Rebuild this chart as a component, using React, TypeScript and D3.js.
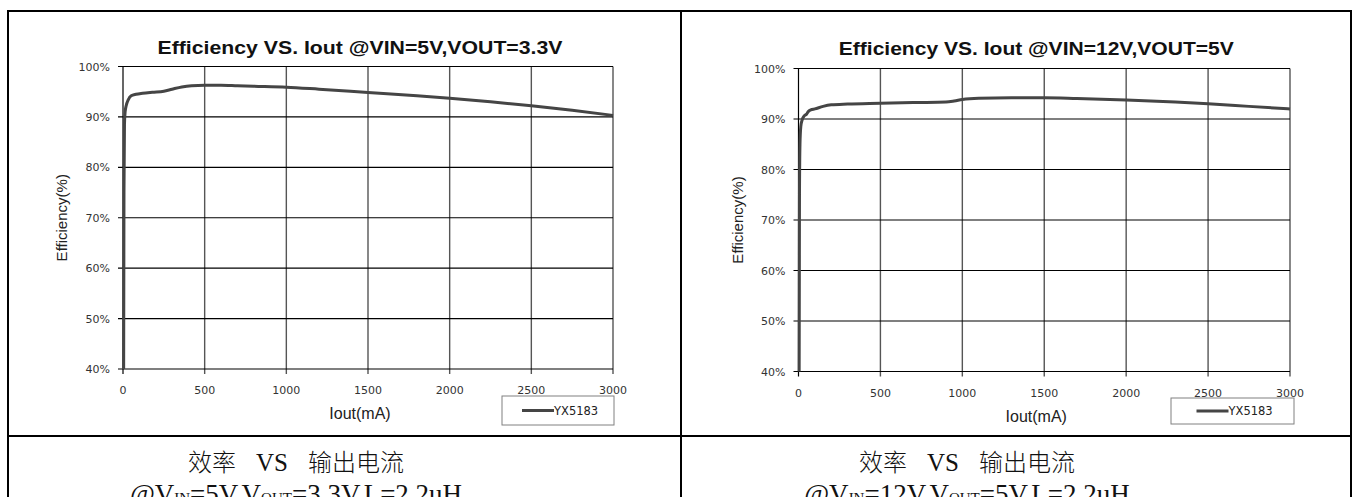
import React from 'react';
import * as d3 from 'd3';

// ---------- data ----------
const xTicks = [0, 500, 1000, 1500, 2000, 2500, 3000];
const yTicks = [40, 50, 60, 70, 80, 90, 100];
const seriesName = 'YX5183';

// VIN=5V, VOUT=3.3V
const leftIout = [4, 6, 9, 13, 20, 32, 50, 80, 120, 180, 250, 300, 360, 420, 500, 600, 700, 800, 1000, 1200, 1500, 1800, 2000, 2250, 2500, 2750, 3000];
const leftEff = [40, 75, 88.5, 91, 92.3, 93.4, 94.2, 94.5, 94.7, 94.9, 95.1, 95.5, 95.95, 96.2, 96.3, 96.3, 96.2, 96.1, 95.9, 95.5, 94.85, 94.2, 93.7, 93.0, 92.2, 91.3, 90.3];

// VIN=12V, VOUT=5V
const rightIout = [4, 6, 9, 14, 22, 35, 50, 60, 75, 100, 150, 200, 300, 500, 700, 900, 950, 1000, 1100, 1300, 1500, 1700, 2000, 2300, 2500, 2750, 3000];
const rightEff = [40, 75, 85, 88.5, 89.8, 90.6, 91.0, 91.5, 91.8, 92.0, 92.5, 92.8, 92.95, 93.1, 93.25, 93.35, 93.55, 93.85, 94.1, 94.2, 94.2, 94.05, 93.75, 93.35, 93.0, 92.5, 92.0];

const leftTitle = 'Efficiency VS. Iout @VIN=5V,VOUT=3.3V';
const rightTitle = 'Efficiency VS. Iout @VIN=12V,VOUT=5V';
const xLabel = 'Iout(mA)';
const yLabel = 'Efficiency(%)';
const captionTop = ['效率', 'VS', '输出电流'];

type ChartProps = {
  iout: number[];
  eff: number[];
  title: string;
  left: number;
  right: number;
  top: number;
  bottom: number;
  titleY: number;
  titleW: number;
  legendX: number;
  legendW: number;
  legendY: number;
  legendH: number;
  yLabelX: number;
};

const tickFont = 'DejaVu Sans, Verdana, sans-serif';
const sansFont = 'Liberation Sans, Arial, sans-serif';

function Chart(p: ChartProps) {
  const x = d3.scaleLinear().domain([0, 3000]).range([p.left, p.right]);
  const y = d3.scaleLinear().domain([40, 100]).range([p.bottom, p.top]);
  const line = d3
    .line<number>()
    .x((_, i) => x(p.iout[i]))
    .y((d) => y(d))
    .curve(d3.curveMonotoneX);
  const cx = (p.left + p.right) / 2 - 8;
  return (
    <g>
      <text
        x={cx}
        y={p.titleY}
        textAnchor="middle"
        fontFamily={sansFont}
        fontWeight="bold"
        fontSize={19}
        textLength={p.titleW}
        lengthAdjust="spacingAndGlyphs"
        fill="#111"
      >
        {p.title}
      </text>
      {/* vertical grid */}
      {xTicks.map((t) => (
        <line key={'vx' + t} x1={x(t)} x2={x(t)} y1={y(100)} y2={y(40) + 5} stroke={t === 0 ? '#000' : '#555'} strokeWidth={t === 0 ? 1.2 : 1.4} />
      ))}
      {/* horizontal grid */}
      {yTicks.map((t) => (
        <line key={'hy' + t} x1={x(0) - 5} x2={x(3000)} y1={y(t)} y2={y(t)} stroke="#000" strokeWidth={1.2} />
      ))}
      {yTicks.map((t) => (
        <text key={'ly' + t} x={x(0) - 13} y={y(t) + 4} textAnchor="end" fontFamily={tickFont} fontSize={11} fill="#333">
          {t + '%'}
        </text>
      ))}
      {xTicks.map((t) => (
        <text key={'lx' + t} x={x(t)} y={y(40) + 25} textAnchor="middle" fontFamily={tickFont} fontSize={11} fill="#333">
          {t}
        </text>
      ))}
      <path d={line(p.eff) || ''} fill="none" stroke="#454545" strokeWidth={3} strokeLinejoin="round" />
      <text x={cx} y={y(40) + 50} textAnchor="middle" fontFamily={sansFont} fontSize={16} fill="#222">
        {xLabel}
      </text>
      <text
        transform={`translate(${p.yLabelX},${(p.top + p.bottom) / 2}) rotate(-90)`}
        textAnchor="middle"
        fontFamily={sansFont}
        fontSize={15}
        fill="#222"
      >
        {yLabel}
      </text>
      <rect x={p.legendX} y={p.legendY} width={p.legendW} height={p.legendH} fill="#fff" stroke="#808080" strokeWidth={1} />
      <line x1={p.legendX + p.legendW / 2 - 36} x2={p.legendX + p.legendW / 2 - 4} y1={p.legendY + p.legendH / 2} y2={p.legendY + p.legendH / 2} stroke="#454545" strokeWidth={3} />
      <text x={p.legendX + p.legendW / 2 - 4} y={p.legendY + p.legendH / 2 + 4} fontFamily={tickFont} fontSize={11.5} fill="#222">
        {seriesName}
      </text>
    </g>
  );
}

function Caption({ cx, vin, vout }: { cx: number; vin: string; vout: string }) {
  return (
    <g>
      <text x={cx} y={471} textAnchor="middle" fontFamily="Noto Sans CJK SC, sans-serif" fontSize={24} fontWeight={300} fill="#111">
        <tspan>{captionTop[0]}</tspan>
        <tspan dx={20} fontFamily="Liberation Serif, serif" fontSize={25}>{captionTop[1]}</tspan>
        <tspan dx={20}>{captionTop[2]}</tspan>
      </text>
      <text x={cx} y={503} textAnchor="middle" fontFamily="Liberation Serif, serif" fontSize={27} fill="#111">
        <tspan>@V</tspan>
        <tspan fontSize={15}>IN</tspan>
        <tspan>{'=' + vin + ',V'}</tspan>
        <tspan fontSize={15}>OUT</tspan>
        <tspan>{'=' + vout + ',L=2.2uH'}</tspan>
      </text>
    </g>
  );
}

export default function App() {
  return (
    <svg width={1357} height={497} style={{ position: 'absolute', left: 0, top: 0, background: '#fff' }}>
      <rect x={0} y={0} width={1357} height={497} fill="#fff" />
      {/* table borders */}
      <line x1={8} x2={1351} y1={11} y2={11} stroke="#000" strokeWidth={2} />
      <line x1={8} x2={1351} y1={436} y2={436} stroke="#000" strokeWidth={2} />
      <line x1={8} x2={8} y1={10} y2={497} stroke="#000" strokeWidth={2} />
      <line x1={681} x2={681} y1={10} y2={497} stroke="#000" strokeWidth={2} />
      <line x1={1351} x2={1351} y1={10} y2={497} stroke="#000" strokeWidth={2} />
      <Chart
        iout={leftIout}
        eff={leftEff}
        title={leftTitle}
        left={123}
        right={613}
        top={66.5}
        bottom={369}
        titleY={54}
        titleW={405}
        legendX={502}
        legendW={112}
        legendY={396}
        legendH={29}
        yLabelX={67}
      />
      <Chart
        iout={rightIout}
        eff={rightEff}
        title={rightTitle}
        left={798.5}
        right={1290}
        top={68.5}
        bottom={371.5}
        titleY={55}
        titleW={395}
        legendX={1171}
        legendW={123}
        legendY={398}
        legendH={26}
        yLabelX={743}
      />
      <Caption cx={296} vin="5V" vout="3.3V" />
      <Caption cx={967} vin="12V" vout="5V" />
    </svg>
  );
}
